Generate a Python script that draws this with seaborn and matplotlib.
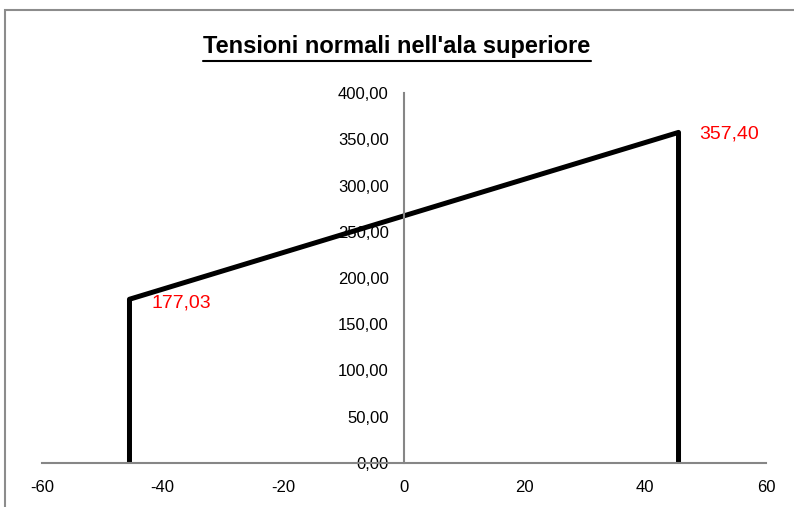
import matplotlib
matplotlib.use("Agg")
import matplotlib.pyplot as plt
import matplotlib.patches as patches
from matplotlib.lines import Line2D
from matplotlib.ticker import FuncFormatter
import pandas as pd
import seaborn as sns

# dati: diagramma delle tensioni nell'ala superiore
x_vals = [-45.5, -45.5, 45.5, 45.5]
y_vals = [0.0, 177.03, 357.40, 0.0]
label_points = [(-45.5, 177.03), (45.5, 357.40)]
x_ticks = [-60, -40, -20, 0, 20, 40, 60]
y_ticks = [0, 50, 100, 150, 200, 250, 300, 350, 400]
titolo = "Tensioni normali nell'ala superiore"

sns.set_style("white")
plt.rcParams['font.family'] = ['Liberation Sans Narrow', 'Liberation Sans', 'DejaVu Sans']
plt.rcParams['axes.unicode_minus'] = False
plt.rcParams['text.color'] = 'black'

df = pd.DataFrame({'x': x_vals, 'y': y_vals})

fig = plt.figure(figsize=(7.94, 5.07), dpi=100)
ax = fig.add_axes([42 / 794, 1 - 463 / 507, 724 / 794, 370 / 507])

sns.lineplot(data=df, x='x', y='y', sort=False, estimator=None,
             color='black', linewidth=3.6, ax=ax)

ax.set_xlim(-60, 60)
ax.set_ylim(0, 400)
ax.set_xticks(x_ticks)
ax.set_yticks(y_ticks)
ax.yaxis.set_major_formatter(FuncFormatter(lambda v, p: f"{v:.2f}".replace('.', ',')))
ax.set_xlabel("")
ax.set_ylabel("")

# assi che si incrociano nell'origine, stile Excel
ax.spines['left'].set_position(('data', 0))
ax.spines['bottom'].set_position(('data', 0))
ax.spines['right'].set_visible(False)
ax.spines['top'].set_visible(False)
for s in ['left', 'bottom']:
    ax.spines[s].set_color('#868686')
    ax.spines[s].set_linewidth(1.5)
ax.tick_params(axis='both', length=0, labelsize=12, colors='black')
ax.tick_params(axis='y', pad=11)
ax.tick_params(axis='x', pad=12)
ax.patch.set_alpha(0)

# etichette dei valori
for (px, py), off in zip(label_points, [(16, -3), (15, -1)]):
    ax.annotate(f"{py:.2f}".replace('.', ','), (px, py), xytext=off,
                textcoords='offset points', ha='left', va='center',
                color='red', fontsize=14)

# titolo sottolineato
t = fig.text(0.5, 1 - 47 / 507, titolo, ha='center', va='center',
             fontsize=17, fontweight='bold', color='black')
fig.canvas.draw()
bb = t.get_window_extent().transformed(fig.transFigure.inverted())
fig.add_artist(Line2D([bb.x0, bb.x1], [bb.y0 - 0.004, bb.y0 - 0.004],
                      transform=fig.transFigure, color='black', linewidth=1.5))

# cornice esterna del grafico
fig.add_artist(patches.Rectangle((5 / 794, -0.1), 1.2, (507 - 10) / 507 + 0.1,
                                 transform=fig.transFigure, fill=False,
                                 edgecolor='#8c8c8c', linewidth=1.5))

fig.savefig("out.png", dpi=100)
